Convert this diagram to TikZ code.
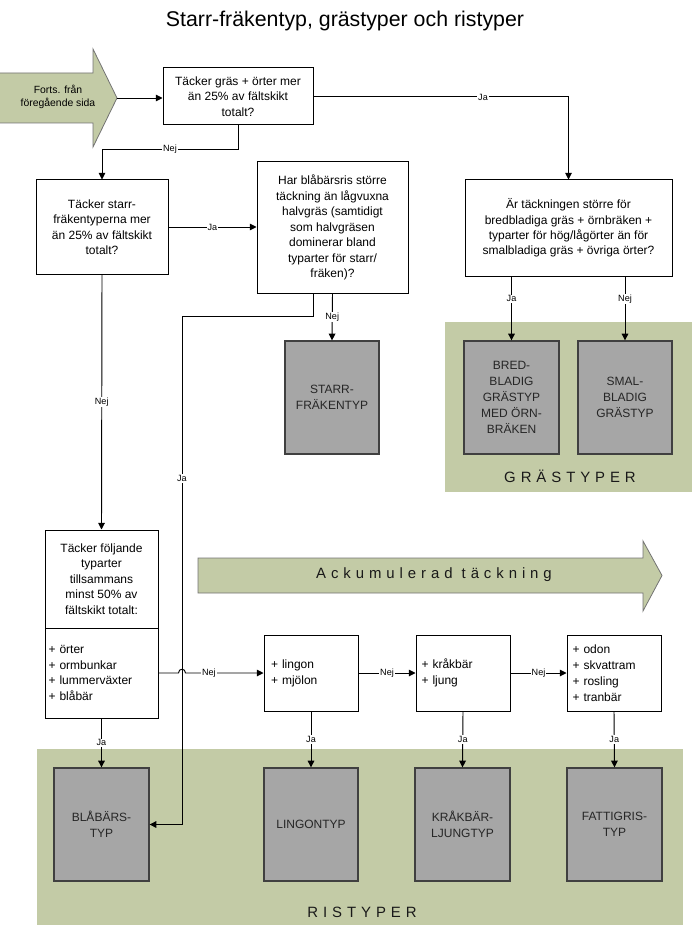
\documentclass[tikz,border=0pt]{standalone}
\usepackage{fontspec}
\setmainfont{Liberation Sans}
\newfontfamily\spacedfont[LetterSpace=33]{Liberation Sans}
\usetikzlibrary{arrows.meta}
\definecolor{olivebg}{RGB}{195,203,166}
\definecolor{boxgray}{RGB}{166,166,166}
\newcommand\mybox[7]{\node[#6, minimum width={(#4-#2)*0.75pt}, minimum height={(#5-#3)*0.75pt}] (#1) at ({(#2+#4)/2},{(#3+#5)/2}) {#7};}
\tikzset{
  wbox/.style={draw=black, line width=0.75pt, fill=white, inner sep=0pt, align=center, font=\fontsize{9}{11.6}\selectfont},
  lbox/.style={draw=black, line width=0.75pt, fill=white, inner ysep=0pt, align=left, font=\fontsize{9}{11.9}\selectfont},
  gbox/.style={draw=black!75, line width=1pt, fill=boxgray, inner sep=0pt, align=center, text=black!85, font=\fontsize{9}{12}\selectfont},
  lbl/.style={fill=white, inner sep=0.8pt, font=\fontsize{6.8}{8}\selectfont},
  conn/.style={draw=black, line width=0.7pt},
  arr/.style={conn, -{Triangle[length=5pt,width=5pt]}},
  bigtext/.style={font=\spacedfont\fontsize{11.2}{13}\selectfont, text=black!90}
}
\begin{document}
\begin{tikzpicture}[x=0.75pt,y=-0.75pt]
\useasboundingbox (0,0) rectangle (692,927);
% title
\node[font=\fontsize{16}{19}\selectfont] (title) at (345,21) {Starr-fräkentyp, grästyper och ristyper};
% background panels
\fill[olivebg] (445,322) rectangle (692,492);
\node[bigtext] (grastyper) at (570,476) {GRÄSTYPER};
\fill[olivebg] (37,749) rectangle (683,925);
\node[bigtext] (ristyper) at (362,912) {RISTYPER};
% Forts arrow
\draw[fill=olivebg, draw=black!55, line width=0.6pt] (0,73) -- (93,73) -- (93,49) -- (117,98) -- (93,147) -- (93,123) -- (0,123);
\node[align=center, font=\fontsize{7.8}{10}\selectfont] (forts) at (58,97) {Forts. från\\föregående sida};
\coordinate (ftip) at (117,98);
% Accumulated arrow
\draw[fill=olivebg, draw=black!55, line width=0.6pt] (198,558) -- (643,558) -- (643,541) -- (662,575.5) -- (643,611) -- (643,593) -- (198,593) -- cycle;
\node[bigtext] (ackum) at (434,575) {Ackumulerad täckning};
% boxes
\mybox{b1}{163}{68}{313}{125}{wbox}{Täcker gräs + örter mer\\än 25\% av fältskikt\\totalt?}
\mybox{b2}{36}{180}{168}{274}{wbox}{Täcker starr-\\fräkentyperna mer\\än 25\% av fältskikt\\totalt?}
\mybox{b3}{257}{162}{408}{293}{wbox}{Har blåbärsris större\\täckning än lågvuxna\\halvgräs (samtidigt\\som halvgräsen\\dominerar bland\\typarter för starr/\\fräken)?}
\mybox{b5}{465}{180}{672}{276}{wbox}{Är täckningen större för\\bredbladiga gräs + örnbräken +\\typarter för hög/lågörter än för\\smalbladiga gräs + övriga örter?}
\mybox{starr}{285}{341}{379}{454}{gbox}{STARR-\\FRÄKENTYP}
\mybox{bred}{464}{341}{559}{454}{gbox}{BRED-\\BLADIG\\GRÄSTYP\\MED ÖRN-\\BRÄKEN}
\mybox{smal}{578}{341}{672}{454}{gbox}{SMAL-\\BLADIG\\GRÄSTYP}
\mybox{b4t}{45}{530}{158}{628}{wbox}{Täcker följande\\typarter\\tillsammans\\minst 50\% av\\fältskikt totalt:}
\mybox{b4b}{45}{628}{158}{718}{lbox, inner xsep=2.5pt, text width={(158-45-7)*0.75pt}}{+ örter\\+ ormbunkar\\+ lummerväxter\\+ blåbär}
\mybox{ling}{264}{635}{358}{711}{lbox, inner xsep=5pt, text width={(358-264-14)*0.75pt}}{+ lingon\\+ mjölon}
\mybox{krak}{416}{635}{510}{711}{lbox, inner xsep=4pt, text width={(510-416-11)*0.75pt}}{+ kråkbär\\+ ljung}
\mybox{odon}{567}{635}{661}{711}{lbox, inner xsep=4pt, text width={(661-567-11)*0.75pt}}{+ odon\\+ skvattram\\+ rosling\\+ tranbär}
\mybox{blab}{54}{768}{149}{881}{gbox}{BLÅBÄRS-\\TYP}
\mybox{lingtyp}{264}{768}{358}{881}{gbox}{LINGONTYP}
\mybox{kraktyp}{415}{768}{510}{881}{gbox}{KRÅKBÄR-\\LJUNGTYP}
\mybox{fattig}{567}{768}{662}{881}{gbox}{FATTIGRIS-\\TYP}
% connectors
\draw[arr] (ftip) -- (b1.west |- ftip);
\draw[arr] (b1.south) -- ++(0,24) -| node[lbl, pos=0.25] {Nej} (b2.north);
\coordinate (jalbl) at (483,97);
\draw[arr] (b1.east) -| (b5.north);
\node[lbl] (ja1) at (jalbl) {Ja};
\draw[arr] (b2.east) -- node[lbl] {Ja} (b3.west |- b2.east);
\draw[arr] (b3.south) -- node[lbl] {Nej} (starr.north);
\coordinate (j1) at (313,316);
\coordinate (j2) at (182,316);
\draw[arr] (b3.south -| j1) -- (j1) -- (j2) -- node[lbl, pos=0.32] {Ja} (j2 |- blab.east) -- (blab.east);
\draw[arr] (b5.south -| bred.north) -- node[lbl, pos=0.35] {Ja} (bred.north);
\draw[arr] (b5.south -| smal.north) -- node[lbl, pos=0.35] {Nej} (smal.north);
\draw[arr] (b2.south) -- node[lbl] {Nej} (b4t.north);
\draw[arr] (b4b.south) -- node[lbl] {Ja} (blab.north);
\coordinate (h1) at (178.5,673);
\coordinate (h2) at (185.5,673);
\draw[arr] (b4b.east) -- (h1) .. controls (178.5,668) and (185.5,668) .. (h2) -- node[lbl, pos=0.3] {Nej} (ling.west);
\draw[arr] (ling.east) -- node[lbl] {Nej} (krak.west);
\draw[arr] (krak.east) -- node[lbl] {Nej} (odon.west);
\draw[arr] (ling.south) -- node[lbl] {Ja} (lingtyp.north);
\draw[arr] (krak.south) -- node[lbl] {Ja} (kraktyp.north);
\draw[arr] (odon.south) -- node[lbl] {Ja} (fattig.north);
\end{tikzpicture}
\end{document}
